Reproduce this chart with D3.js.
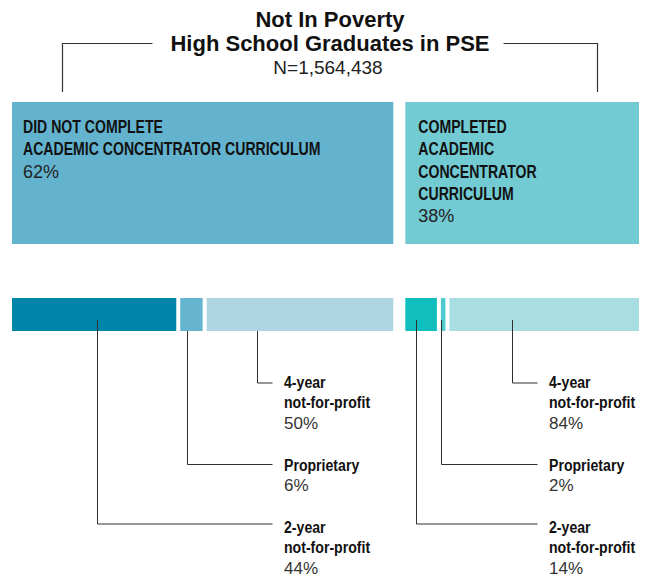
<!DOCTYPE html>
<html>
<head>
<meta charset="utf-8">
<script src="https://cdn.jsdelivr.net/npm/d3@7"></script>
<style>
  html, body { margin: 0; padding: 0; background: #fff; }
  svg { display: block; }
</style>
</head>
<body>
<svg id="chart" width="649" height="577"></svg>
<script>
// ---- data ----
const titleLines = ["Not In Poverty", "High School Graduates in PSE"];
const totalN = 1564438;

const groupKeys = ["notCompleted", "completed"];
const groupTitleLines = [
  ["DID NOT COMPLETE", "ACADEMIC CONCENTRATOR CURRICULUM"],
  ["COMPLETED", "ACADEMIC", "CONCENTRATOR", "CURRICULUM"]
];
const groupShares = [62, 38];

const sectors = ["2-year not-for-profit", "Proprietary", "4-year not-for-profit"];
const sectorLabelLines = [["2-year", "not-for-profit"], ["Proprietary"], ["4-year", "not-for-profit"]];
const sectorSharesNotCompleted = [44, 6, 50];
const sectorSharesCompleted = [14, 2, 84];

// ---- styling / layout ----
const boxColors = ["#63b3cf", "#72cad3"];
const segmentColors = [
  ["#0085aa", "#66b5d0", "#aed5e2"],
  ["#10bebe", "#4fcbd0", "#a8dde2"]
];
const sans = "'Liberation Sans', Arial, Helvetica, sans-serif";

const svg = d3.select("#chart");
const W = 649;
const margin = { left: 12, right: 10 };
const groupGap = 12, segGap = 4;
const boxTop = 102, boxBottom = 244;
const barTop = 298, barBottom = 331;
const titleCx = 330;

// leader attachment inside each segment (fraction of segment width) and its top
const leaderFrac = [[0.52, 0.32, 0.27], [0.33, 0.0, 0.33]];
const leaderTop = [[320, barBottom, barBottom], [320, 320, 320]];
// connector y and first text baseline per sector
const connectorY = [524, 464.5, 383];
const labelBaseline = [533, 471, 388];
const labelX = [284, 549];
const boxTextInset = [11, 13];

// condensed bold block of lines, drawn at (x, y) with the first baseline at y
function condensedLines(parent, x, y, lines, lineH, size, squeeze) {
  const g = parent.append("g")
    .attr("transform", `translate(${x},${y}) scale(${squeeze},1)`);
  lines.forEach((ln, i) => {
    g.append("text")
      .attr("x", 0).attr("y", i * lineH)
      .style("font-family", sans).style("font-weight", 700).style("font-size", size + "px")
      .attr("fill", "#111")
      .text(ln);
  });
  return g;
}

// ---- scales ----
const usable = W - margin.left - margin.right - groupGap;
const groupX = d3.scaleLinear().domain([0, 100]).range([0, usable]);
const groupStart = [];
let acc = margin.left;
groupShares.forEach(s => {
  groupStart.push(acc);
  acc += groupX(s) + groupGap;
});
const groupWidth = groupShares.map(s => groupX(s));
const sectorShares = [sectorSharesNotCompleted, sectorSharesCompleted];

// ---- title ----
const title = svg.append("g").attr("class", "title");
title.append("text")
  .attr("x", titleCx).attr("y", 27)
  .attr("text-anchor", "middle")
  .style("font-family", sans).style("font-weight", 700).style("font-size", "22px")
  .attr("fill", "#111")
  .text(titleLines[0]);
const sub = title.append("text")
  .attr("x", titleCx).attr("y", 51)
  .attr("text-anchor", "middle")
  .style("font-family", sans).style("font-weight", 700).style("font-size", "22px")
  .attr("fill", "#111")
  .text(titleLines[1]);
title.append("text")
  .attr("x", titleCx - 2).attr("y", 73.5)
  .attr("text-anchor", "middle")
  .style("font-family", sans).style("font-weight", 400).style("font-size", "19px")
  .attr("fill", "#222")
  .text("N=" + d3.format(",")(totalN));

// bracket joining the title to both groups
const subBox = sub.node().getBBox();
const bracketY = 43.5, bracketBottom = 92;
const bracketLeftX = 62.5, bracketRightX = 597.5;
title.append("path")
  .attr("d", `M${bracketLeftX},${bracketBottom}V${bracketY}H${subBox.x - 18}`)
  .attr("fill", "none").attr("stroke", "#333").attr("stroke-width", 1.2);
title.append("path")
  .attr("d", `M${subBox.x + subBox.width + 14},${bracketY}H${bracketRightX}V${bracketBottom}`)
  .attr("fill", "none").attr("stroke", "#333").attr("stroke-width", 1.2);

// ---- groups ----
groupKeys.forEach((key, gi) => {
  const g = svg.append("g").attr("class", "group " + key);
  const x0 = groupStart[gi], w = groupWidth[gi];

  // share box
  g.append("rect")
    .attr("x", x0).attr("y", boxTop)
    .attr("width", w).attr("height", boxBottom - boxTop)
    .attr("fill", boxColors[gi]);

  const lines = groupTitleLines[gi];
  const lineH = 22.3;
  const tx = x0 + boxTextInset[gi];
  condensedLines(g, tx, 133, lines, lineH, 17.5, 0.805);
  g.append("text")
    .attr("x", tx).attr("y", 133 + lines.length * lineH)
    .style("font-family", sans).style("font-weight", 400).style("font-size", "18px")
    .attr("fill", "#222")
    .text(groupShares[gi] + "%");

  // sector split bar
  const shares = sectorShares[gi];
  const segScale = d3.scaleLinear().domain([0, 100])
    .range([0, w - segGap * (shares.length - 1)]);
  const segs = [];
  let sx = x0;
  shares.forEach((v, si) => {
    segs.push({ x: sx, w: segScale(v), v, si });
    sx += segScale(v) + segGap;
  });

  g.selectAll("rect.seg").data(segs).join("rect")
    .attr("class", "seg")
    .attr("x", d => d.x).attr("y", barTop)
    .attr("width", d => d.w).attr("height", barBottom - barTop)
    .attr("fill", d => segmentColors[gi][d.si]);

  // leader lines to the labels
  const lx = labelX[gi];
  g.selectAll("path.leader").data(segs).join("path")
    .attr("class", "leader")
    .attr("d", d => {
      const ax = Math.round(d.x + d.w * leaderFrac[gi][d.si]) + 0.5;
      return `M${ax},${leaderTop[gi][d.si]}V${connectorY[d.si]}H${lx - 11.5}`;
    })
    .attr("fill", "none").attr("stroke", "#2e2e2e").attr("stroke-width", 1);

  // labels
  segs.forEach(d => {
    const lab = sectorLabelLines[d.si];
    const lh = 20.5;
    condensedLines(g, lx, labelBaseline[d.si], lab, lh, 17, 0.83);
    g.append("text")
      .attr("x", lx).attr("y", labelBaseline[d.si] + lab.length * lh - 0.5)
      .style("font-family", sans).style("font-weight", 400).style("font-size", "17px")
      .attr("fill", "#333")
      .text(d.v + "%");
  });
});
</script>
</body>
</html>
